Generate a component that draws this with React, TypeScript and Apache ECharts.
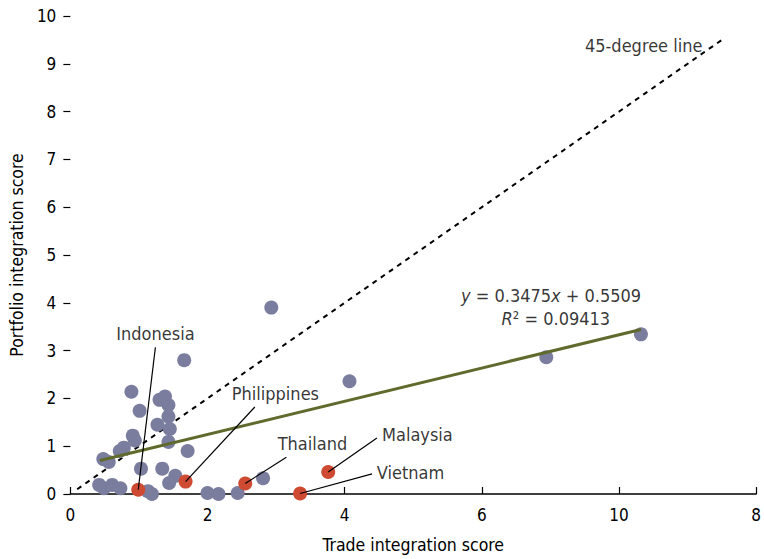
import React, { useEffect, useRef } from "react";
import * as echarts from "echarts";

// Other economies: [trade integration score, portfolio integration score]
const otherEconomies: [number, number][] = [
  [2.93, 3.9], [1.66, 2.8], [0.89, 2.14], [1.3, 1.97], [1.38, 2.04],
  [1.43, 1.86], [1.01, 1.74], [1.43, 1.62], [1.27, 1.45], [1.45, 1.36],
  [0.91, 1.22], [0.94, 1.12], [1.43, 1.09], [0.78, 0.97], [0.72, 0.9],
  [1.71, 0.9], [0.48, 0.73], [0.56, 0.67], [1.03, 0.53], [1.34, 0.53],
  [1.53, 0.38], [1.44, 0.23], [0.42, 0.19], [0.49, 0.12], [0.61, 0.19],
  [0.73, 0.12], [1.13, 0.06], [1.19, 0.0], [2.0, 0.02], [2.16, 0.0],
  [2.44, 0.02], [2.81, 0.33], [4.07, 2.36], [6.94, 2.86], [8.32, 3.34],
];

// Highlighted economies
const highlightNames = ["Indonesia", "Philippines", "Thailand", "Malaysia", "Vietnam"];
const highlightTrade = [0.99, 1.68, 2.55, 3.76, 3.35];
const highlightPortfolio = [0.09, 0.26, 0.22, 0.46, 0.01];

// Label anchor (data units) and leader-line start for each highlighted economy
const labelPos: [number, number][] = [
  [1.24, 3.36], [2.99, 2.11], [3.53, 1.06], [5.06, 1.25], [4.96, 0.44],
];
const leaderStart: [number, number][] = [
  [1.24, 3.07], [2.69, 1.82], [3.15, 0.77], [4.47, 1.17], [4.4, 0.42],
];

// Fitted line
const slope = 0.3475;
const intercept = 0.5509;
const rSquared = 0.09413;
const fitRange = [0.43, 8.32];

// 45-degree reference line extent
const diagonalRange = [0.1, 9.5];

// Axis tick labels as printed
const xTickLabels = ["0", "2", "4", "6", "10", "8"];
const yTickLabels = ["0", "1", "2", "3", "4", "5", "6", "7", "8", "9", "10"];

const FONT = "'DejaVu Sans Condensed', 'Liberation Sans Narrow', sans-serif";
const INK = "#000";
const GRAY = "#7b7d9e";
const RED = "#cf4a32";
const OLIVE = "#5f6a2c";

export default function App() {
  const ref = useRef<HTMLDivElement>(null);

  useEffect(() => {
    if (!ref.current) return;
    const chart = echarts.init(ref.current, undefined, { renderer: "svg" });

    const axisText = { fontFamily: FONT, fontSize: 17, color: INK };
    const noteText = { fontFamily: FONT, fontSize: 18, color: INK };

    chart.setOption({
      animation: false,
      textStyle: { fontFamily: FONT, color: INK },
      grid: { left: 66, right: 3, top: 16, bottom: 64, containLabel: false },
      xAxis: {
        type: "value",
        min: 0,
        max: 10,
        interval: 2,
        name: "Trade integration score",
        nameLocation: "middle",
        nameGap: 42,
        nameTextStyle: { ...axisText, fontSize: 17.5 },
        axisLine: { show: true, lineStyle: { color: INK, width: 1.5 } },
        axisTick: { show: true, inside: true, length: 7, lineStyle: { color: INK, width: 1.2 } },
        axisLabel: {
          ...axisText,
          margin: 12,
          formatter: (v: number) => xTickLabels[Math.round(v / 2)] ?? "",
        },
        splitLine: { show: false },
      },
      yAxis: {
        type: "value",
        min: 0,
        max: 10,
        interval: 1,
        name: "Portfolio integration score",
        nameLocation: "middle",
        nameGap: 40,
        nameTextStyle: { ...axisText, fontSize: 17.5 },
        axisLine: { show: false },
        axisTick: { show: true, inside: false, length: 7, lineStyle: { color: INK, width: 1.2 } },
        axisLabel: {
          ...axisText,
          margin: 14,
          formatter: (v: number) => yTickLabels[Math.round(v)] ?? "",
        },
        splitLine: { show: false },
      },
      series: [
        {
          name: "45-degree line",
          type: "line",
          data: diagonalRange.map((v) => [v, v]),
          symbol: "none",
          lineStyle: { color: INK, width: 2, type: [5, 5] },
          z: 1,
        },
        {
          name: "Others",
          type: "scatter",
          data: otherEconomies,
          symbolSize: 14,
          itemStyle: { color: GRAY, opacity: 1 },
          z: 2,
        },
        {
          name: "Fit",
          type: "line",
          data: fitRange.map((x) => [x, slope * x + intercept]),
          symbol: "none",
          lineStyle: { color: OLIVE, width: 3 },
          z: 3,
        },
        {
          name: "Highlighted",
          type: "scatter",
          data: highlightNames.map((n, i) => ({ name: n, value: [highlightTrade[i], highlightPortfolio[i]] })),
          symbolSize: 14,
          itemStyle: { color: RED, opacity: 1 },
          z: 4,
          markLine: {
            silent: true,
            symbol: "none",
            label: { show: false },
            lineStyle: { color: INK, width: 1.2, type: "solid" },
            data: highlightNames.map((_, i) => [
              { coord: leaderStart[i] },
              { coord: [highlightTrade[i], highlightPortfolio[i]] },
            ]),
          },
        },
        {
          name: "Annotations",
          type: "scatter",
          symbolSize: 0,
          silent: true,
          z: 5,
          itemStyle: { color: INK },
          data: [
            ...highlightNames.map((n, i) => ({ name: n, value: labelPos[i] })),
            { name: "45-degree line", value: [8.36, 9.39] },
            { name: "equation", value: [7.01, 4.15] },
            { name: "r2", value: [7.08, 3.67] },
          ],
          label: {
            show: true,
            position: [0, 0],
            align: "center",
            verticalAlign: "middle",
            ...noteText,
            formatter: (p: any) => {
              if (p.name === "equation")
                return `{i|y} = ${slope.toFixed(4)}{i|x} + ${intercept.toFixed(4)}`;
              if (p.name === "r2") return `{i|R}² = ${rSquared.toFixed(5)}`;
              return p.name;
            },
            rich: {
              i: { ...noteText, fontStyle: "italic" },
            },
          },
        },
      ],
    });

    return () => chart.dispose();
  }, []);

  return (
    <div
      ref={ref}
      style={{ position: "fixed", left: 0, top: 0, width: 764, height: 559, background: "#fff" }}
    />
  );
}
